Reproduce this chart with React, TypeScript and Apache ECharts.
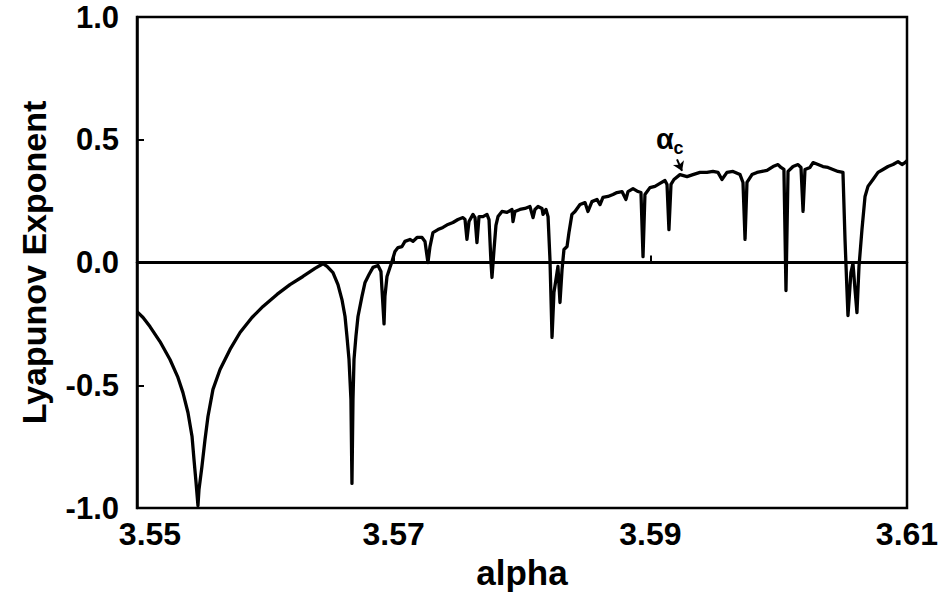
import React, { useEffect, useRef } from "react";
import * as echarts from "echarts";

const alphaValues: number[] = [
  3.55, 3.55047, 3.55101, 3.55179, 3.55257, 3.55319, 3.55358, 3.55397, 3.55429, 3.55444,
  3.5546, 3.55475, 3.55483, 3.55506, 3.5553, 3.55553, 3.55592, 3.55647, 3.55725, 3.55803,
  3.55896, 3.55982, 3.56091, 3.56192, 3.56293, 3.56387, 3.56449, 3.56481, 3.56527, 3.56566,
  3.56597, 3.56621, 3.56636, 3.56652, 3.56667, 3.56675, 3.56683, 3.56691, 3.56706, 3.56722,
  3.56753, 3.56777, 3.56808, 3.56839, 3.56878, 3.56901, 3.56909, 3.56925, 3.56932, 3.56948,
  3.56971, 3.56987, 3.5701, 3.57034, 3.57065, 3.57088, 3.57127, 3.57151, 3.57182, 3.57221,
  3.57244, 3.57267, 3.57283, 3.57306, 3.57345, 3.57384, 3.57423, 3.57462, 3.57501, 3.5754,
  3.57556, 3.57571, 3.57587, 3.57618, 3.57634, 3.57649, 3.57665, 3.57696, 3.57727, 3.57743,
  3.57758, 3.57766, 3.57782, 3.57797, 3.57813, 3.57844, 3.57883, 3.57922, 3.5793, 3.57945,
  3.57984, 3.58023, 3.58062, 3.58086, 3.58101, 3.58125, 3.58156, 3.58164, 3.58187, 3.58203,
  3.58218, 3.58234, 3.58249, 3.58273, 3.5828, 3.58296, 3.58312, 3.58327, 3.58351, 3.58366,
  3.58389, 3.58413, 3.58452, 3.58491, 3.58514, 3.58545, 3.58584, 3.58608, 3.58631, 3.5867,
  3.58709, 3.5874, 3.58779, 3.5881, 3.58826, 3.58865, 3.58904, 3.58927, 3.58943, 3.58958,
  3.58997, 3.59036, 3.59075, 3.59114, 3.5913, 3.59145, 3.59161, 3.59184, 3.59231, 3.59286,
  3.59332, 3.59387, 3.59441, 3.59488, 3.59527, 3.59558, 3.59597, 3.59644, 3.59699, 3.59722,
  3.59738, 3.59753, 3.59792, 3.59831, 3.5987, 3.59909, 3.59956, 3.59995, 3.60018, 3.60041,
  3.60057, 3.60073, 3.60112, 3.60151, 3.60174, 3.6019, 3.60205, 3.60244, 3.60268, 3.60307,
  3.60345, 3.60384, 3.60423, 3.60462, 3.60501, 3.60517, 3.60532, 3.6054, 3.60563, 3.60579,
  3.60595, 3.6061, 3.60626, 3.60649, 3.60673, 3.60696, 3.60735, 3.60774, 3.60813, 3.60852,
  3.60891, 3.6093, 3.60961, 3.60984, 3.61,
];

const lyapunovValues: number[] = [
  -0.2, -0.224, -0.261, -0.322, -0.395, -0.468, -0.53, -0.611, -0.709, -0.802,
  -0.896, -0.99, -0.925, -0.831, -0.721, -0.627, -0.517, -0.436, -0.354, -0.285,
  -0.224, -0.179, -0.13, -0.09, -0.057, -0.024, -0.005, -0.016, -0.041, -0.09,
  -0.151, -0.22, -0.301, -0.395, -0.558, -0.9, -0.558, -0.395, -0.301, -0.22,
  -0.138, -0.081, -0.049, -0.02, -0.012, -0.037, -0.11, -0.25, -0.138, -0.057,
  -0.02, 0.004, 0.045, 0.061, 0.065, 0.086, 0.094, 0.086, 0.102, 0.102,
  0.086, 0.0, 0.065, 0.122, 0.134, 0.143, 0.155, 0.163, 0.175, 0.183,
  0.175, 0.094, 0.167, 0.196, 0.183, 0.081, 0.187, 0.187, 0.196, 0.175,
  0.004, -0.061, 0.053, 0.151, 0.187, 0.208, 0.204, 0.216, 0.167, 0.208,
  0.216, 0.22, 0.228, 0.183, 0.216, 0.228, 0.22, 0.196, 0.216, 0.187,
  0.012, -0.305, -0.122, -0.041, -0.016, -0.163, -0.029, 0.053, 0.065, 0.122,
  0.196, 0.208, 0.236, 0.244, 0.208, 0.248, 0.257, 0.236, 0.265, 0.269,
  0.277, 0.285, 0.289, 0.257, 0.289, 0.301, 0.289, 0.285, 0.024, 0.277,
  0.305, 0.31, 0.322, 0.334, 0.318, 0.134, 0.318, 0.338, 0.358, 0.35,
  0.358, 0.367, 0.367, 0.371, 0.367, 0.338, 0.367, 0.371, 0.358, 0.326,
  0.094, 0.326, 0.358, 0.367, 0.371, 0.375, 0.391, 0.399, 0.387, 0.379,
  -0.114, 0.371, 0.391, 0.399, 0.387, 0.208, 0.379, 0.387, 0.407, 0.399,
  0.391, 0.387, 0.379, 0.371, 0.367, 0.094, -0.11, -0.216, -0.041, -0.004,
  -0.11, -0.204, -0.016, 0.134, 0.269, 0.31, 0.338, 0.367, 0.379, 0.391,
  0.399, 0.411, 0.399, 0.407, 0.415,
];

const xTickValues: number[] = [3.55, 3.57, 3.59, 3.61];
const yTickValues: number[] = [-1.0, -0.5, 0.0, 0.5, 1.0];

const annotationText = { symbol: "α", sub: "c" };
const annotationArrow = { from: [3.59208, 0.42], to: [3.59247, 0.373] };
const annotationPos = { symbol: [3.59045, 0.503], sub: [3.5918, 0.467] };

const FONT = "'Liberation Sans', Arial, Helvetica, sans-serif";

export default function App() {
  const ref = useRef<HTMLDivElement>(null);

  useEffect(() => {
    document.body.style.margin = "0";
    if (!ref.current) return;
    const chart = echarts.init(ref.current, undefined, { renderer: "svg" });
    const data = alphaValues.map((a, i) => [a, lyapunovValues[i]]);

    chart.setOption({
      animation: false,
      backgroundColor: "#ffffff",
      grid: {
        left: 137,
        right: 38,
        top: 17,
        bottom: 87,
        show: true,
        borderColor: "#000",
        borderWidth: 2.5,
        backgroundColor: "transparent",
      },
      xAxis: {
        type: "value",
        min: 3.55,
        max: 3.61,
        name: "alpha",
        nameLocation: "middle",
        nameGap: 40,
        nameTextStyle: { fontFamily: FONT, fontSize: 35, fontWeight: "bold", color: "#000" },
        axisLine: { show: true, lineStyle: { color: "#000", width: 2.5 } },
        axisTick: {
          show: true,
          inside: true,
          length: 7,
          lineStyle: { color: "#000", width: 2 },
          customValues: xTickValues,
        },
        axisLabel: {
          color: "#000",
          fontFamily: FONT,
          fontSize: 32,
          fontWeight: "bold",
          margin: 10,
          customValues: xTickValues,
          formatter: (v: number) =>
            Math.abs(v - 3.55) < 1e-9 ? "{first|" + v.toFixed(2) + "}" : v.toFixed(2),
          rich: {
            first: {
              fontFamily: FONT,
              fontSize: 32,
              fontWeight: "bold",
              color: "#000",
              padding: [0, 0, 0, 26],
            },
          },
        },
        splitLine: { show: false },
      },
      yAxis: {
        type: "value",
        min: -1,
        max: 1,
        interval: 0.5,
        name: "Lyapunov Exponent",
        nameLocation: "middle",
        nameGap: 86,
        nameTextStyle: { fontFamily: FONT, fontSize: 34, fontWeight: "bold", color: "#000" },
        axisLine: { show: true, lineStyle: { color: "#000", width: 2.5 } },
        axisTick: {
          show: true,
          inside: true,
          length: 7,
          lineStyle: { color: "#000", width: 2 },
          customValues: yTickValues,
        },
        axisLabel: {
          color: "#000",
          fontFamily: FONT,
          fontSize: 31,
          fontWeight: "bold",
          margin: 18,
          customValues: yTickValues,
          formatter: (v: number) => v.toFixed(1),
        },
        splitLine: { show: false },
      },
      series: [
        {
          type: "line",
          data,
          showSymbol: false,
          symbol: "none",
          lineStyle: { color: "#000", width: 3.3, join: "round" },
          markLine: {
            silent: true,
            animation: false,
            symbol: ["none", "none"],
            label: { show: false },
            data: [
              { yAxis: 0, lineStyle: { color: "#000", width: 3, type: "solid" } },
              [
                { coord: annotationArrow.from, symbol: "none", lineStyle: { color: "#000", width: 2, type: "solid" } },
                { coord: annotationArrow.to, symbol: "arrow", symbolSize: 9 },
              ],
            ],
          },
        },
      ],
    });

    const p1 = chart.convertToPixel({ gridIndex: 0 }, annotationPos.symbol) as number[];
    const p2 = chart.convertToPixel({ gridIndex: 0 }, annotationPos.sub) as number[];
    chart.setOption({
      graphic: [
        {
          type: "text",
          x: p1[0],
          y: p1[1],
          style: {
            text: annotationText.symbol,
            fontFamily: FONT,
            fontSize: 29,
            fontWeight: "bold",
            fill: "#000",
            textAlign: "left",
            textVerticalAlign: "middle",
          },
        },
        {
          type: "text",
          x: p2[0],
          y: p2[1],
          style: {
            text: annotationText.sub,
            fontFamily: FONT,
            fontSize: 18,
            fontWeight: "bold",
            fill: "#000",
            textAlign: "left",
            textVerticalAlign: "middle",
          },
        },
      ],
    });

    return () => chart.dispose();
  }, []);

  return (
    <div
      ref={ref}
      style={{ position: "absolute", left: 0, top: 0, width: 945, height: 595 }}
    />
  );
}
